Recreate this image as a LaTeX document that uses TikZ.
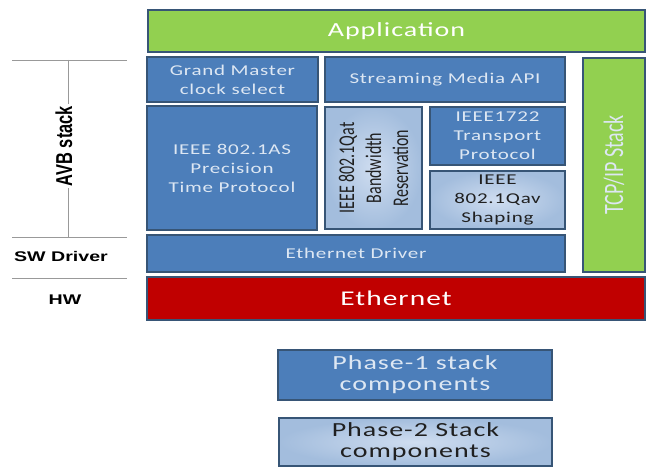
\documentclass[tikz,border=0pt]{standalone}
\usepackage{fontspec}
\setmainfont{Carlito}[FakeStretch=1.4, LetterSpace=5]
\newfontfamily\upfont{Carlito}[FakeStretch=0.714]
\newfontfamily\lblfont{Liberation Sans}[FakeStretch=1.4]
\newfontfamily\uplblfont{Liberation Sans}[FakeStretch=0.714]
\definecolor{edge}{HTML}{375576}
\definecolor{mid}{HTML}{4C7EBA}
\definecolor{pale}{HTML}{DDE7F3}
\definecolor{lightin}{HTML}{CFDDF0}
\definecolor{lightout}{HTML}{A3BDDD}
\definecolor{appgreen}{HTML}{92D050}
\definecolor{ethred}{HTML}{C00000}
\definecolor{inktext}{HTML}{202020}
\begin{document}
\begin{tikzpicture}[x=1pt,y=-1pt,
  every node/.style={inner sep=0pt, align=center},
  sz/.style 2 args={minimum width=#1, minimum height=#2},
  blk/.style={draw=edge, line width=2pt, fill=mid, text=pale,
    font=\fontsize{15}{19}\selectfont},
  lightblk/.style={blk, inner color=lightin, outer color=lightout, text=inktext},
  greenblk/.style={blk, fill=appgreen, text=white},
  layer/.style={font=\lblfont\bfseries\fontsize{14}{16}\selectfont},
  bracket/.style={draw=gray!80, line width=0.8pt}
  ]
  \useasboundingbox (0,0) rectangle (651,470);

  \coordinate (l1) at (12,60);  \coordinate (r1) at (127,60);
  \coordinate (l2) at (12,237); \coordinate (r2) at (127,237);
  \coordinate (l3) at (12,278); \coordinate (r3) at (127,278);
  \coordinate (vt) at (68,60);  \coordinate (vb) at (68,237);
  \draw[bracket] (l1) -- (r1);
  \draw[bracket] (l2) -- (r2);
  \draw[bracket] (l3) -- (r3);
  \draw[bracket] (vt) -- (vb);

  \node[fill=white, rotate=90, inner sep=2pt,
    font=\uplblfont\bfseries\fontsize{23}{25}\selectfont] (avb) at (64,146) {AVB stack};
  \node[layer] (sw) at (61,256) {SW Driver};
  \node[layer] (hw) at (65,300) {HW};

  \node[greenblk, sz={497}{42}, font=\fontsize{20}{22}\selectfont] (app) at (396.5,31) {Application};
  \node[blk, sz={171}{45}] (gm) at (232.5,79.5) {Grand Master\\clock select};
  \node[blk, sz={240}{45}] (sma) at (445,79.5) {Streaming Media API};
  \node[greenblk, sz={62}{214}] (tcp) at (614,165) {};
  \node[rotate=90, text=pale, font=\upfont\fontsize{28}{30}\selectfont] (tcplbl) at (tcp) {TCP/IP Stack};
  \node[blk, sz={170}{124}] (ptp) at (232,168) {IEEE 802.1AS\\Precision\\Time Protocol};
  \node[lightblk, sz={97}{122}] (qat) at (373.5,168) {};
  \node[rotate=90, text=inktext, font=\upfont\fontsize{22.4}{27}\selectfont] (qatlbl) at (qat)
    {IEEE 802.1Qat\\Bandwidth\\Reservation};
  \node[blk, sz={135}{58}] (avtp) at (497.5,136) {IEEE1722\\Transport\\Protocol};
  \node[lightblk, sz={135}{58}] (qav) at (497.5,200) {IEEE\\802.1Qav\\Shaping};
  \node[blk, sz={418}{37}] (drv) at (356,253.5) {Ethernet Driver};
  \node[blk, fill=ethred, text=white, sz={498}{43}, font=\fontsize{21}{23}\selectfont] (eth) at (396,298.5) {Ethernet};

  \node[blk, sz={274}{50}, font=\fontsize{20}{21}\selectfont] (ph1) at (415,375) {Phase-1 stack\\components};
  \node[lightblk, sz={273}{48}, font=\fontsize{20}{21}\selectfont] (ph2) at (415.5,442) {Phase-2 Stack\\components};
\end{tikzpicture}
\end{document}
